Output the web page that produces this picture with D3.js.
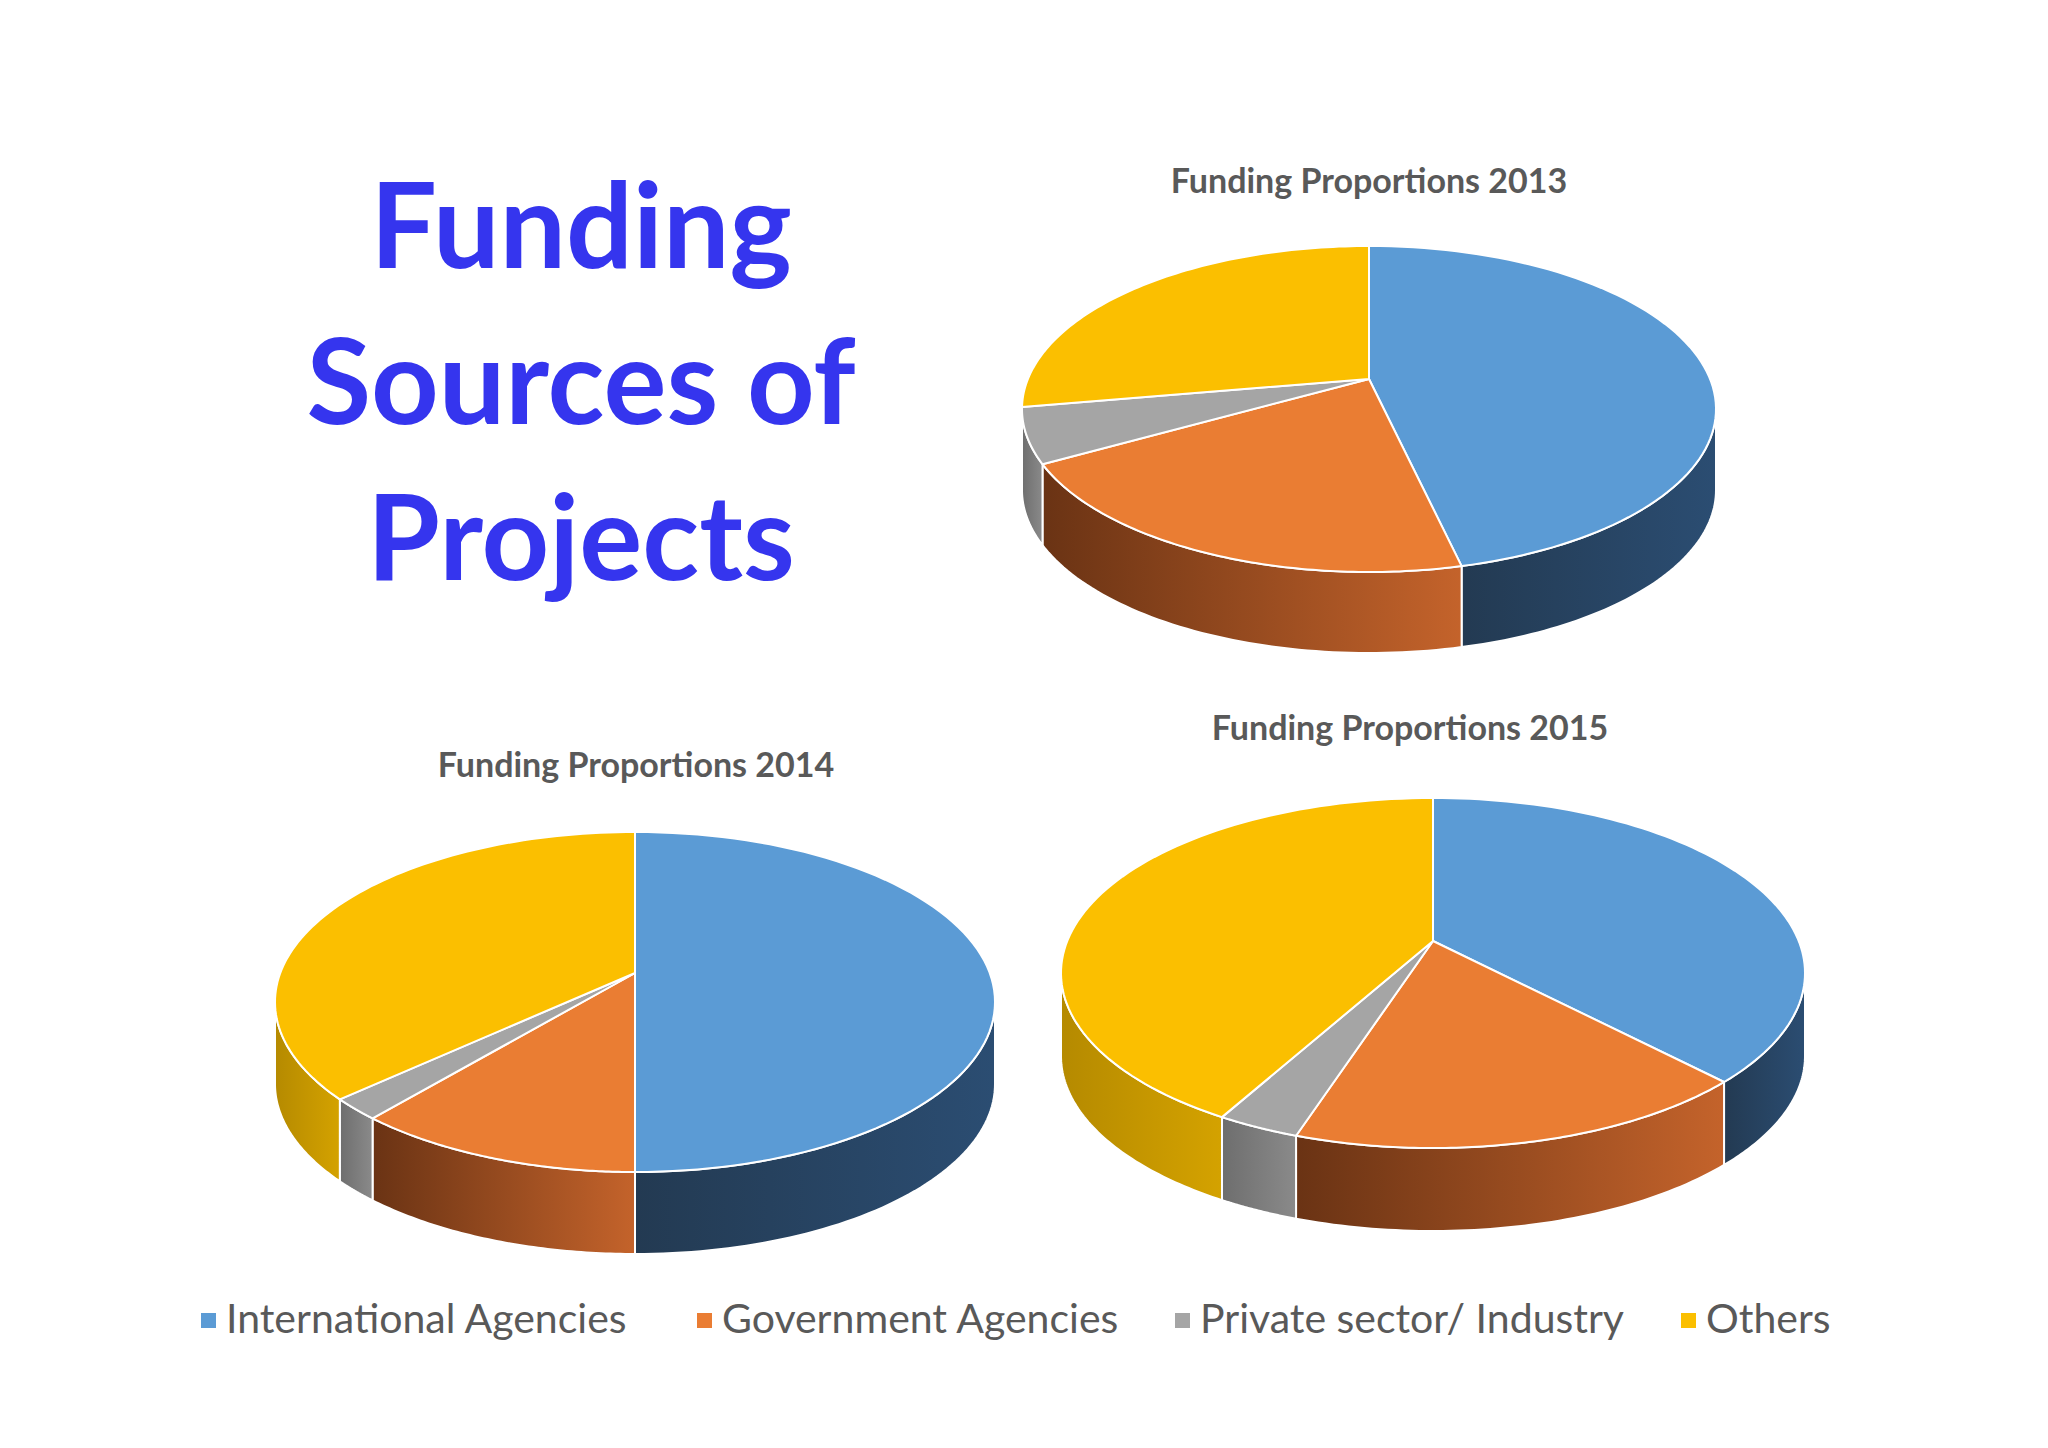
<!DOCTYPE html>
<html><head><meta charset="utf-8">
<script src="https://cdn.jsdelivr.net/npm/d3@7"></script>
<style>body{margin:0;background:#fff}</style>
</head><body>
<svg id="chart" width="2048" height="1448"></svg>
<script>
// data (percent of funding per year)
var categories = ['International Agencies', 'Government Agencies', 'Private sector/ Industry', 'Others'];
var years = ['2013', '2014', '2015'];
var values2013 = [45.7, 23.8, 5.7, 24.8];
var values2014 = [50, 13, 2.3, 34.7];
var values2015 = [35.7, 20.3, 3.6, 40.4];
var titleLines = ['Funding', 'Sources of', 'Projects'];

var topColors = ['#5b9bd5', '#ea7d33', '#a5a5a5', '#fbbf00'];
var sideLight = ['#2b4d72', '#c4632b', '#8a8a8a', '#d4a200'];
var sideDark = ['#233a52', '#6a3314', '#6e6e6e', '#b58a00'];
var color = d3.scaleOrdinal().domain(categories).range(topColors);

var svg = d3.select('#chart');
var defs = svg.append('defs');

// layout of each pie: ellipse centre, radii, depth, apex offset, title position
var layouts = [
  {cx: 1369, cy: 409, rx: 347, ry: 163, depth: 81, apex: -30, tx: 1369, ty: 193, values: values2013},
  {cx: 635, cy: 1002, rx: 360, ry: 170, depth: 82, apex: -29, tx: 636, ty: 777, values: values2014},
  {cx: 1433, cy: 973, rx: 372, ry: 175, depth: 83, apex: -32, tx: 1410, ty: 740, values: values2015}
];

var pie = d3.pie().sort(null).value(d => d);

// big title
svg.append('g').selectAll('text').data(titleLines).join('text')
  .attr('x', 581).attr('y', (d, i) => [268, 424, 580][i])
  .attr('text-anchor', 'middle')
  .style('font-family', 'Lato, sans-serif').style('font-weight', 'bold')
  .style('font-size', '118px').style('fill', '#3535ee')
  .text(d => d);

layouts.forEach(function(L, k) {
  var pt = (a, dy) => [L.cx + L.rx * Math.sin(a), L.cy - L.ry * Math.cos(a) + (dy || 0)];
  var arcs = pie(L.values);
  var g = svg.append('g');

  g.append('text')
    .attr('x', L.tx).attr('y', L.ty).attr('text-anchor', 'middle')
    .style('font-family', 'Lato, sans-serif').style('font-weight', 'bold')
    .style('font-size', '34px').style('fill', '#595959')
    .text('Funding Proportions ' + years[k]);

  // side walls: only the front half (angles PI/2 .. 3PI/2) is visible
  arcs.forEach(function(a, i) {
    var s = Math.max(a.startAngle, Math.PI / 2), e = Math.min(a.endAngle, 3 * Math.PI / 2);
    if (e <= s) return;
    var id = 'side' + k + '_' + i;
    var grad = defs.append('linearGradient').attr('id', id).attr('x1', 1).attr('x2', 0).attr('y1', 0).attr('y2', 0);
    grad.append('stop').attr('offset', 0).attr('stop-color', sideLight[i]);
    grad.append('stop').attr('offset', 1).attr('stop-color', sideDark[i]);
    var n = 60, p = d3.path(), j, t, q;
    for (j = 0; j <= n; j++) {
      t = s + (e - s) * j / n; q = pt(t);
      if (j == 0) p.moveTo(q[0], q[1]); else p.lineTo(q[0], q[1]);
    }
    for (j = n; j >= 0; j--) {
      t = s + (e - s) * j / n; q = pt(t, L.depth);
      p.lineTo(q[0], q[1]);
    }
    p.closePath();
    g.append('path').attr('d', p.toString())
      .style('fill', 'url(#' + id + ')').style('stroke', '#fff').style('stroke-width', 2);
  });

  // top faces
  g.selectAll('path.top').data(arcs).join('path').attr('class', 'top')
    .attr('d', function(a) {
      var n = 90, p = d3.path(), ax = L.cx, ay = L.cy + L.apex;
      p.moveTo(ax, ay);
      for (var j = 0; j <= n; j++) {
        var q = pt(a.startAngle + (a.endAngle - a.startAngle) * j / n);
        p.lineTo(q[0], q[1]);
      }
      p.closePath();
      return p.toString();
    })
    .style('fill', (a, i) => color(categories[i]))
    .style('stroke', '#fff').style('stroke-width', 2).style('stroke-linejoin', 'round');
});

// legend
var legendX = [201, 697, 1175, 1681];
var leg = svg.append('g').selectAll('g').data(categories).join('g')
  .attr('transform', (d, i) => 'translate(' + legendX[i] + ',1333)');
leg.append('rect').attr('x', 0).attr('y', -20).attr('width', 15).attr('height', 15)
  .style('fill', d => color(d));
leg.append('text').attr('x', 25).attr('y', 0)
  .style('font-family', 'Lato, sans-serif').style('font-size', '41px').style('fill', '#595959')
  .text(d => d);
</script>
</body></html>
